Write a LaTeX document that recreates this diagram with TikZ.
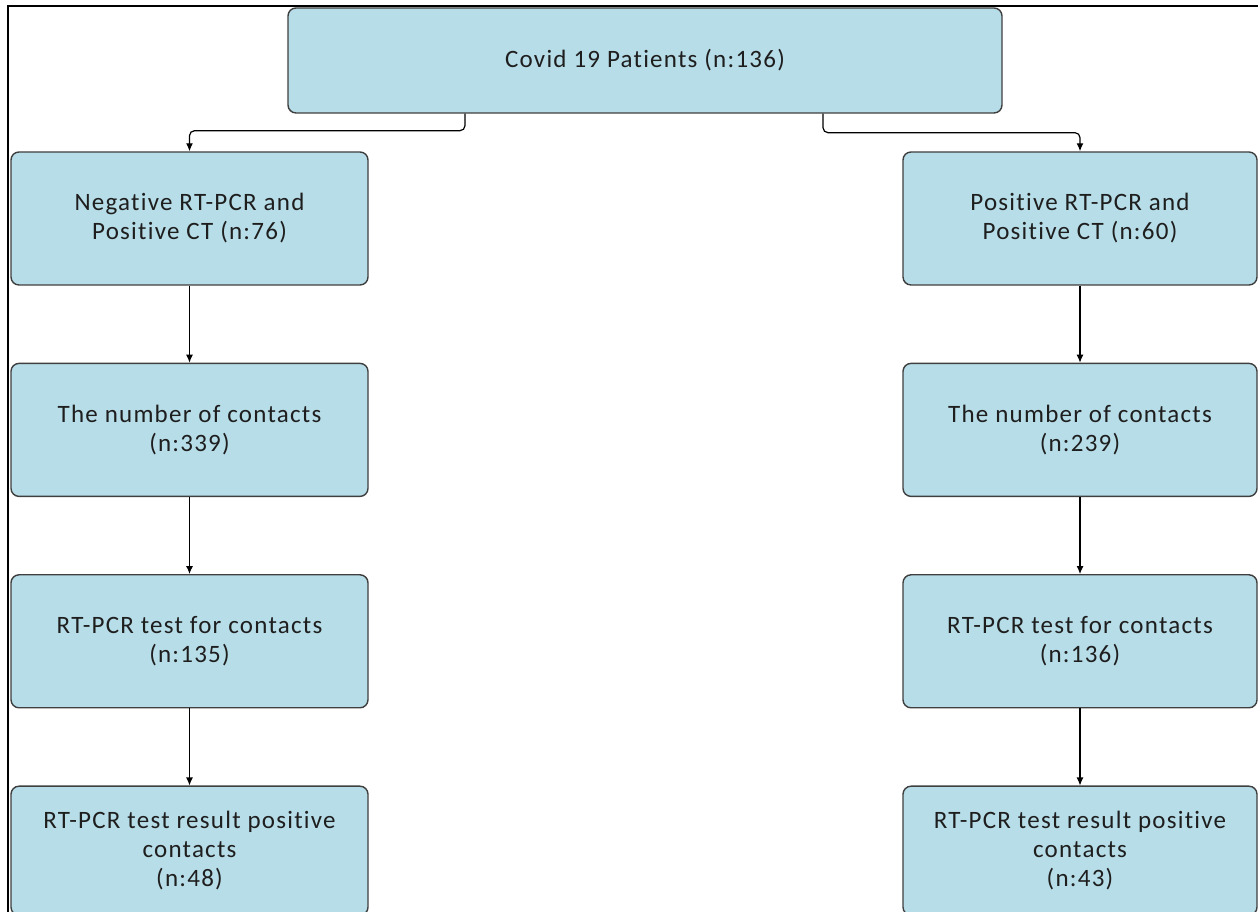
\documentclass[tikz,border=0pt]{standalone}
\usepackage{fontspec}
\setmainfont{Carlito}[LetterSpace=5.0,Ligatures={NoCommon,NoDiscretionary}]
\usepackage{tikz}
\usetikzlibrary{arrows.meta,positioning,calc}
\definecolor{boxfill}{HTML}{B7DDE8}
\definecolor{boxline}{HTML}{3F3F3F}
\definecolor{boxtext}{HTML}{1E1E1E}
\tikzset{>={Latex[length=8pt,width=7pt]}}
\tikzset{
	flowbox/.style={draw=boxline, line width=1.4pt, fill=boxfill, rounded corners=8pt,
		text=boxtext, align=center, inner sep=4pt,
		font=\fontsize{25}{29}\selectfont},
	colbox/.style={flowbox, minimum height=133pt},
	conn/.style={->, black, line width=1.2pt}
}

\begin{document}
\begin{tikzpicture}[x=1pt,y=1pt]
		\useasboundingbox (0,0) rectangle (1258,912);
		\draw[line width=2pt] (8,0) -- (8,906) -- (1258,906);
		% top box
		\node[flowbox, minimum width=714pt, minimum height=105pt] (patients) at (645,851.5) {Covid 19 Patients (n:136)};
		% left column
		\node[colbox, minimum width=357pt] (neg1) at (189.5,693.5) {Negative RT-PCR and\\Positive CT (n:76)};
		\node[colbox, minimum width=357pt, below=77pt of neg1] (neg2) {The number of contacts\\(n:339)};
		\node[colbox, minimum width=357pt, below=77pt of neg2] (neg3) {RT-PCR test for contacts\\(n:135)};
		\node[colbox, minimum width=357pt, minimum height=129pt, below=77pt of neg3] (neg4) {RT-PCR test result positive\\contacts\\(n:48)};
		% right column
		\node[colbox, minimum width=354pt] (pos1) at (1080,693.5) {Positive RT-PCR and\\Positive CT (n:60)};
		\node[colbox, minimum width=354pt, below=77pt of pos1] (pos2) {The number of contacts\\(n:239)};
		\node[colbox, minimum width=354pt, below=77pt of pos2] (pos3) {RT-PCR test for contacts\\(n:136)};
		\node[colbox, minimum width=354pt, minimum height=129pt, below=77pt of pos3] (pos4) {RT-PCR test result positive\\contacts\\(n:43)};
		% connectors
		\draw[conn, rounded corners=5pt] ([xshift=-180pt]patients.south) -- ++(0,-17) -| (neg1.north);
		\draw[conn, rounded corners=5pt] ([xshift=178pt]patients.south) -- ++(0,-19) -| (pos1.north);
		\foreach \a/\b in {neg1/neg2,neg2/neg3,neg3/neg4,pos1/pos2,pos2/pos3,pos3/pos4}
			\draw[conn] (\a) -- (\b);
	\end{tikzpicture}
\end{document}
